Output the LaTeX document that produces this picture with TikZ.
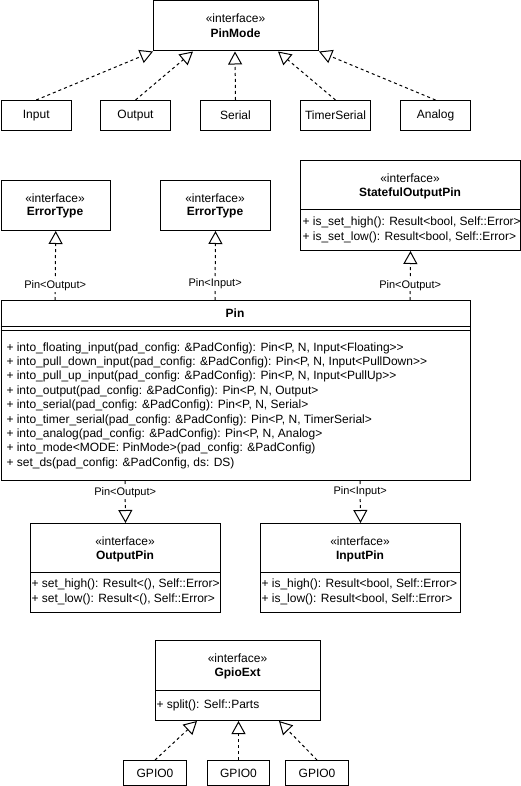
\documentclass[tikz,border=0pt]{standalone}
\usepackage{fontspec}
\setmainfont{Liberation Sans}
\usetikzlibrary{arrows.meta}
\begin{document}
\begin{tikzpicture}[x=1pt,y=-1pt,line width=1pt,
  every node/.style={font=\fontsize{12}{14}\selectfont, inner sep=0pt},
  box/.style={draw, fill=white, anchor=north west},
  cname/.style={font=\fontsize{12}{14}\selectfont\bfseries},
  meth/.style={anchor=west, align=left},
  lbl/.style={fill=white, inner sep=1pt, font=\fontsize{11}{13}\selectfont},
  realize/.style={draw, dash pattern=on 3pt off 3pt, -{Triangle[open, length=13pt, width=14pt]}}]
\useasboundingbox (0,0) rectangle (521,786);

% PinMode
\node[box, minimum width=165pt, minimum height=50pt] (pinmode) at (153,0.5) {};
\node (pinmodeS) at (235.5,18) {«interface»};
\node[cname] (pinmodeN) at (235.5,33) {PinMode};

\node[box, minimum width=70.5pt, minimum height=30pt] (input) at (0.5,100) {Input};
\node[box, minimum width=70pt, minimum height=30pt] (output) at (100,100) {Output};
\node[box, minimum width=70pt, minimum height=30pt] (serial) at (200,100) {Serial};
\node[box, minimum width=70pt, minimum height=30pt] (timerserial) at (300,100) {TimerSerial};
\node[box, minimum width=70pt, minimum height=30pt] (analog) at (400,100) {Analog};

\draw[realize] (input.north) -- (pinmode.south west);
\draw[realize] (output.north) -- ([xshift=40pt]pinmode.south west);
\draw[realize] (serial.north) -- ([xshift=82pt]pinmode.south west);
\draw[realize] (timerserial.north) -- ([xshift=125pt]pinmode.south west);
\draw[realize] (analog.north) -- (pinmode.south east);

% ErrorType boxes
\node[box, minimum width=109.5pt, minimum height=50pt] (err1) at (0.5,180) {};
\node (err1S) at (55,198) {«interface»};
\node[cname] (err1N) at (55,213) {ErrorType};
\node[box, minimum width=110pt, minimum height=50pt] (err2) at (160,180) {};
\node (err2S) at (215,198) {«interface»};
\node[cname] (err2N) at (215,213) {ErrorType};

% StatefulOutputPin
\node[box, minimum width=220pt, minimum height=90pt] (stateful) at (300,160) {};
\draw (300,210) -- (520,210);
\node (statefulS) at (410,178) {«interface»};
\node[cname] (statefulN) at (410,193) {StatefulOutputPin};
\node[meth] (statefulM) at (302,230) {+ is\_set\_high(): Result<bool, Self::Error>\\[0.4pt]+ is\_set\_low(): Result<bool, Self::Error>};

% Pin
\node[box, minimum width=469.5pt, minimum height=180pt] (pin) at (0.5,300) {};
\node[cname] (pinN) at (235,313) {Pin};
\draw (0.5,326) -- (470,326);
\draw (0.5,330) -- (470,330);
\foreach \t [count=\i from 0] in {
  {+ into\_floating\_input(pad\_config: \&PadConfig): Pin<P, N, Input<Floating>\kern0pt>},
  {+ into\_pull\_down\_input(pad\_config: \&PadConfig): Pin<P, N, Input<PullDown>\kern0pt>},
  {+ into\_pull\_up\_input(pad\_config: \&PadConfig): Pin<P, N, Input<PullUp>\kern0pt>},
  {+ into\_output(pad\_config: \&PadConfig): Pin<P, N, Output>},
  {+ into\_serial(pad\_config: \&PadConfig): Pin<P, N, Serial>},
  {+ into\_timer\_serial(pad\_config: \&PadConfig): Pin<P, N, TimerSerial>},
  {+ into\_analog(pad\_config: \&PadConfig): Pin<P, N, Analog>},
  {+ into\_mode<MODE: PinMode>(pad\_config: \&PadConfig)},
  {+ set\_ds(pad\_config: \&PadConfig, ds: DS)}}
  \node[meth] (pinM\i) at (6,348+14.4*\i) {\t};

\draw[realize] ([xshift=54.5pt]pin.north west) -- node[lbl, pos=0.21] (l1) {Pin<Output>} (err1.south);
\draw[realize] ([xshift=214.5pt]pin.north west) -- node[lbl, pos=0.23] (l2) {Pin<Input>} (err2.south);
\draw[realize] ([xshift=409.5pt]pin.north west) -- node[lbl, pos=0.3] (l3) {Pin<Output>} (stateful.south);

% OutputPin / InputPin
\node[box, minimum width=190pt, minimum height=89pt] (outpin) at (30,523) {};
\draw (30,572) -- (220,572);
\node (outpinS) at (125,541) {«interface»};
\node[cname] (outpinN) at (125,556) {OutputPin};
\node[meth] (outpinM) at (31,592) {+ set\_high(): Result<(), Self::Error>\\[0.4pt]+ set\_low(): Result<(), Self::Error>};

\node[box, minimum width=200pt, minimum height=89pt] (inpin) at (260,523) {};
\draw (260,572) -- (460,572);
\node (inpinS) at (360,541) {«interface»};
\node[cname] (inpinN) at (360,556) {InputPin};
\node[meth] (inpinM) at (261,592) {+ is\_high(): Result<bool, Self::Error>\\[0.4pt]+ is\_low(): Result<bool, Self::Error>};

\draw[realize] ([xshift=124.5pt]pin.south west) -- node[lbl, pos=0.28] (l4) {Pin<Output>} (outpin.north);
\draw[realize] ([xshift=359.5pt]pin.south west) -- node[lbl, pos=0.26] (l5) {Pin<Input>} (inpin.north);

% GpioExt
\node[box, minimum width=165pt, minimum height=80pt] (gpioext) at (155,640) {};
\draw (155,690) -- (320,690);
\node (gpioextS) at (237.5,658) {«interface»};
\node[cname] (gpioextN) at (237.5,673) {GpioExt};
\node[meth] (gpioextM) at (156,705) {+ split(): Self::Parts};

\node[box, minimum width=63pt, minimum height=25pt] (g1) at (123,760) {GPIO0};
\node[box, minimum width=62pt, minimum height=25pt] (g2) at (207,760) {GPIO0};
\node[box, minimum width=63pt, minimum height=25pt] (g3) at (285,760) {GPIO0};

\draw[realize] (g1.north) -- ([xshift=42pt]gpioext.south west);
\draw[realize] (g2.north) -- (g2.north |- gpioext.south);
\draw[realize] (g3.north) -- ([xshift=124pt]gpioext.south west);
\end{tikzpicture}
\end{document}
